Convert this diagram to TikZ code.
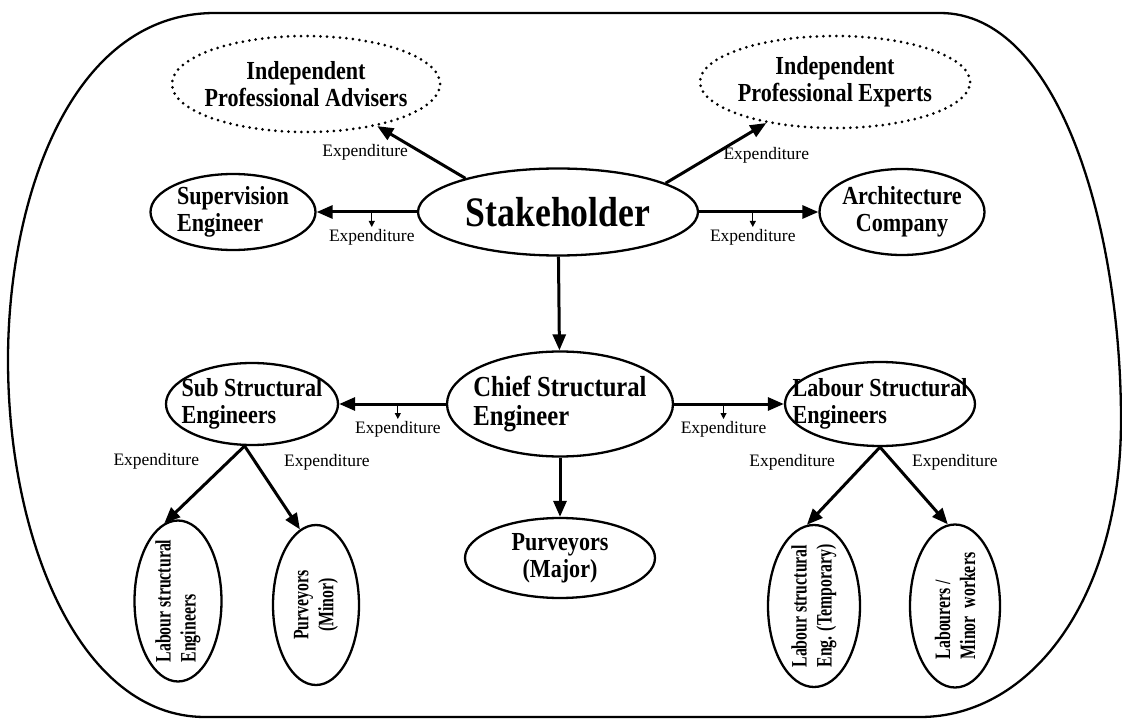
\documentclass[tikz,border=0pt]{standalone}
\usepackage{fontspec}
\setmainfont{Liberation Serif}
\newfontfamily\condbf[FakeStretch=0.85]{Liberation Serif Bold}
\newfontfamily\narrowbf[FakeStretch=0.72]{Liberation Serif Bold}
\usetikzlibrary{shapes.geometric}
\usetikzlibrary{arrows.meta}
\usetikzlibrary{positioning}

\begin{document}
\begin{tikzpicture}[x=1pt,y=-1pt,
	party/.style={ellipse,draw,line width=2.3pt,inner xsep=-30pt,inner ysep=-15pt,align=center,font=\condbf\fontsize{26}{27}\selectfont},
	adviser/.style={party,line width=3pt,dash pattern=on 0pt off 6.5pt,line cap=round},
	worker/.style={party,rotate=90,minimum width=161pt,minimum height=87pt,font=\narrowbf\fontsize{22}{25}\selectfont},
	arr/.style={-{Triangle[length=16pt,width=13pt]},line width=3pt},
	lbl/.style={inner sep=1pt,font=\fontsize{17.5}{18}\selectfont},
	flowtick/.style={-{Triangle[length=6pt,width=6pt]},line width=1pt}]
	\useasboundingbox (0,0) rectangle (1122,719);
	% outer frame
	\draw[line width=2.3pt] (215,13) -- (940,13) .. controls (1060,13) and (1121,230) .. (1121,420) .. controls (1121,600) and (1030,717) .. (920,717) -- (205,717) .. controls (80,717) and (8,540) .. (8,360) .. controls (8,200) and (70,13) .. (215,13) -- cycle;
	% parties
	\node[adviser,minimum width=268pt,minimum height=96pt] (ipa) at (306,84) {Independent\\Professional Advisers};
	\node[adviser,minimum width=270pt,minimum height=92pt] (ipe) at (835,82) {Independent\\Professional Experts};
	\node[party,minimum width=280pt,minimum height=87pt,font=\condbf\fontsize{42}{44}\selectfont] (stake) at (558,212) {Stakeholder};
	\node[party,minimum width=165pt,minimum height=76pt,align=left] (sup) at (233,212) {Supervision\\Engineer};
	\node[party,minimum width=165pt,minimum height=86pt] (arch) at (902,212) {Architecture\\Company};
	\node[party,minimum width=226pt,minimum height=105pt,align=left,font=\condbf\fontsize{29}{29}\selectfont] (chief) at (560,404) {Chief Structural\\Engineer};
	\node[party,minimum width=172pt,minimum height=82pt,align=left] (sub) at (252,404) {Sub Structural\\Engineers};
	\node[party,minimum width=190pt,minimum height=84pt,align=left] (lser) at (880,404) {Labour Structural\\Engineers};
	\node[party,minimum width=190pt,minimum height=80pt] (pmaj) at (560,558) {Purveyors\\(Major)};
	\node[worker,align=left] (lse) at (178,601) {Labour structural\\Engineers};
	\node[worker,minimum width=160pt,minimum height=86pt] (pmin) at (316,605) {Purveyors\\(Minor)};
	\node[worker,align=left,minimum width=162pt,minimum height=92pt] (tmp) at (814,606) {Labour structural\\Eng. (Temporary)};
	\node[worker,align=left,minimum width=163pt,minimum height=90pt] (lab) at (955,606) {Labourers /\\Minor\ \ workers};
	% money flows
	\path[arr]
	(stake.160)	edge node[lbl,pos=1,below=16pt,xshift=-12pt]{Expenditure}	(ipa)
	(stake.15)	edge node[lbl,pos=1,below=22pt]{Expenditure}	(ipe)
	(stake)	edge node[lbl,pos=.45,below=15pt] (xsup) {Expenditure}	(sup)
	(stake)	edge node[lbl,pos=.45,below=15pt] (xarch) {Expenditure}	(arch)
	(stake)	edge	(chief)
	(chief)	edge node[lbl,pos=.45,below=15pt] (xsub) {Expenditure}	(sub)
	(chief)	edge node[lbl,pos=.45,below=15pt] (xlser) {Expenditure}	(lser)
	(chief)	edge	(pmaj)
	(sub.260)	edge node[lbl,pos=.2,left=27pt]{Expenditure}	(lse.10)
	(sub.260)	edge node[lbl,pos=.2,right=26pt]{Expenditure}	(pmin.12)
	(lser.south)	edge node[lbl,pos=.2,left=28pt]{Expenditure}	(tmp.5)
	(lser.south)	edge node[lbl,pos=.2,right=16pt]{Expenditure}	(lab.5);
	\foreach \x in {xsup,xarch,xsub,xlser}
		\draw[flowtick] (\x.north) ++(0,-15) -- (\x.north);
\end{tikzpicture}
\end{document}
